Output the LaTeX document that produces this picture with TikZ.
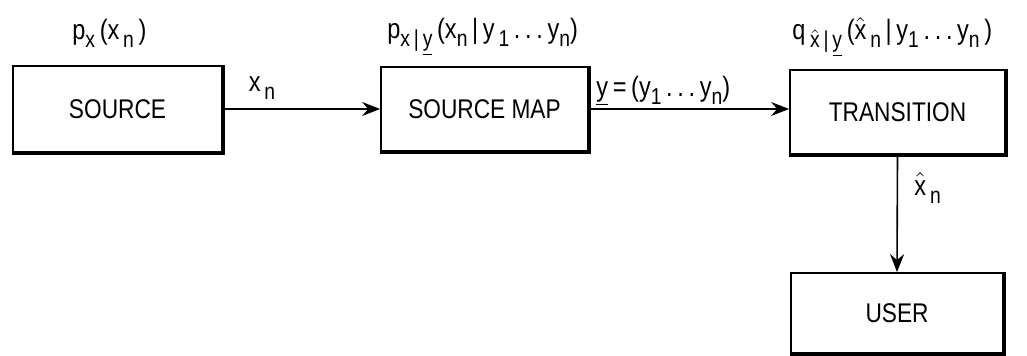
\documentclass[tikz,border=0pt]{standalone}
\usepackage{fontspec}
\setmainfont{Liberation Sans}[FakeStretch=0.84]
\usetikzlibrary{arrows.meta}
\newcommand{\lowsub}[1]{\raisebox{-0.55ex}{\fontsize{11.5}{13}\selectfont #1}}
\newcommand{\hatx}{\ensuremath{\hat{\hbox{x}}}}
\begin{document}
\begin{tikzpicture}[x=0.5pt,y=-0.5pt,
  blk/.style={draw, line width=0.9pt, inner sep=0pt, font=\fontsize{13.5}{16}\selectfont},
  lbl/.style={inner sep=0pt, font=\fontsize{14}{16}\selectfont},
  shade/.style={line width=2pt},
  conn/.style={line width=0.8pt, -{Stealth[length=9pt,width=7pt,inset=3pt]}}]
\useasboundingbox (0,0) rectangle (1027,356);
\node[blk, minimum width=104.5pt, minimum height=43pt] (src) at (117.5,109) {SOURCE};
\node[blk, minimum width=103.5pt, minimum height=42pt] (map) at (484.5,109) {SOURCE MAP};
\node[blk, minimum width=107.5pt, minimum height=42pt] (tr) at (897.5,112) {TRANSITION};
\node[blk, minimum width=106pt, minimum height=40pt] (usr) at (897,313) {USER};
\foreach \b in {src,map,tr,usr}{
  \draw[shade] (\b.north east) -- (\b.south east) -- (\b.south west);
}
\draw[conn] (src.east) -- (map.west);
\draw[conn] (map.east) -- (map.east -| tr.west);
\draw[conn] (tr.south) -- (usr.north);
\node[lbl, anchor=west] (l1) at (72,33) {p\lowsub{x}\,(x\lowsub{\,n}\,)};
\node[lbl] (l2) at (262,88) {x\lowsub{\,n}};
\node[lbl, anchor=west] (l3) at (387,37) {p\lowsub{x\,|\,\underline{y}}\,(x\lowsub{n}\,|\,y\lowsub{\,1}\,.\,.\,.\,y\lowsub{n})};
\node[lbl, anchor=west] (l4) at (596,91) {\underline{y}\,=\,(y\lowsub{1}\,.\,.\,.\,y\lowsub{n})};
\node[lbl, anchor=west] (l5) at (792,37) {q\,\lowsub{\hatx\,|\,\underline{y}}\,(\hatx\lowsub{\,n}\,|\,y\lowsub{1}\,.\,.\,.\,y\lowsub{n}\,)};
\node[lbl, anchor=west] (l6) at (914,188) {\hatx\lowsub{\,n}};
\end{tikzpicture}
\end{document}
